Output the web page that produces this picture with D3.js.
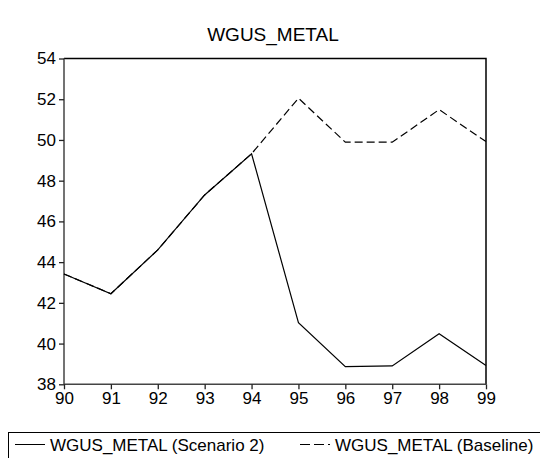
<!DOCTYPE html>
<html>
<head>
<meta charset="utf-8">
<script src="https://cdn.jsdelivr.net/npm/d3@7"></script>
<style>
  body { margin: 0; background: #fff; }
  svg { display: block; font-family: "Liberation Sans", Arial, sans-serif; }
</style>
</head>
<body>
<svg id="chart" width="540" height="458"></svg>
<script>
// data
var years = ["90", "91", "92", "93", "94", "95", "96", "97", "98", "99"];
var scenario2 = [43.42, 42.45, 44.6, 47.3, 49.32, 41.03, 38.87, 38.9, 40.48, 38.92];
var baseline = [43.42, 42.45, 44.6, 47.3, 49.32, 52.05, 49.89, 49.89, 51.49, 49.92];
var yTicks = [38, 40, 42, 44, 46, 48, 50, 52, 54];
var seriesNames = ["WGUS_METAL (Scenario 2)", "WGUS_METAL (Baseline)"];

var plotL = 64, plotR = 486, plotT = 58.5, plotB = 384.3;

var svg = d3.select("#chart");

var x = d3.scalePoint().domain(years).range([plotL, plotR]);
var y = d3.scaleLinear().domain([38, 54]).range([plotB, plotT]);

// title
svg.append("text")
  .attr("x", 273).attr("y", 41)
  .attr("text-anchor", "middle")
  .style("font-size", "19px")
  .text("WGUS_METAL");

// frame top/right
svg.append("path")
  .attr("d", "M" + plotL + "," + plotT + "H" + plotR + "V" + plotB)
  .attr("fill", "none").attr("stroke", "#000").attr("stroke-width", 1.5);

// y axis
var ya = svg.append("g")
  .attr("transform", "translate(" + plotL + ",0)")
  .call(d3.axisLeft(y).tickValues(yTicks).tickSize(5).tickPadding(3));
// x axis
var xa = svg.append("g")
  .attr("transform", "translate(0," + plotB + ")")
  .call(d3.axisBottom(x).tickSize(5).tickPadding(3));

[ya, xa].forEach(function(g) {
  g.select(".domain").attr("stroke", "#444").attr("stroke-width", 1.5);
  g.selectAll(".tick line").attr("stroke", "#222").attr("stroke-width", 1.3);
  g.selectAll(".tick text").attr("fill", "#000")
    .style("font-size", "17px").style("font-family", "Liberation Sans, Arial, sans-serif");
});
xa.select(".domain").attr("d", "M" + plotL + ",0H" + plotR);
ya.select(".domain").attr("d", "M0," + plotT + "V" + plotB);

var line = d3.line()
  .x(function(d, i) { return x(years[i]); })
  .y(function(d) { return y(d); });

svg.append("path")
  .datum(baseline)
  .attr("d", line)
  .attr("fill", "none").attr("stroke", "#000").attr("stroke-width", 1.2)
  .attr("stroke-dasharray", "8,4");

svg.append("path")
  .datum(scenario2)
  .attr("d", line)
  .attr("fill", "none").attr("stroke", "#000").attr("stroke-width", 1.2);

// legend
svg.append("rect")
  .attr("x", 8.5).attr("y", 432.5).attr("width", 540).attr("height", 40)
  .attr("fill", "none").attr("stroke", "#000").attr("stroke-width", 1);

var legend = [
  { name: seriesNames[0], dash: null, x: 15 },
  { name: seriesNames[1], dash: "10,4", x: 300 }
];
legend.forEach(function(l) {
  svg.append("line")
    .attr("x1", l.x).attr("x2", l.x + 30).attr("y1", 444.5).attr("y2", 444.5)
    .attr("stroke", "#000").attr("stroke-width", 1)
    .attr("stroke-dasharray", l.dash);
  svg.append("text")
    .attr("x", l.x + 35).attr("y", 450.5)
    .style("font-size", "17px")
    .text(l.name);
});
</script>
</body>
</html>
